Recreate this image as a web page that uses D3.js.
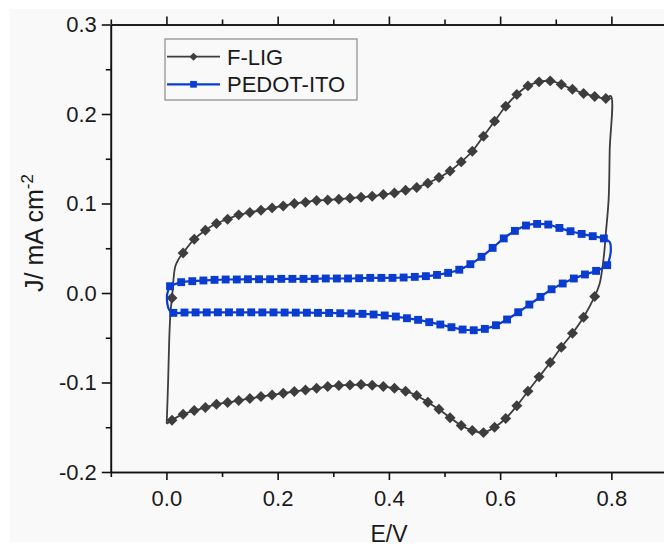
<!DOCTYPE html>
<html>
<head>
<meta charset="utf-8">
<script src="https://cdn.jsdelivr.net/npm/d3@7"></script>
<style>
  html, body { margin: 0; padding: 0; background: #ffffff; }
  svg { display: block; }
  text { font-family: "Liberation Sans", Arial, Helvetica, sans-serif; fill: #1a1a1a; }
</style>
</head>
<body>
<svg id="chart" width="664" height="547"></svg>
<script>
// ---------------- data ----------------
const seriesNames = ["F-LIG", "PEDOT-ITO"];

// F-LIG forward (upper) branch markers
const fligUpperE = [0.01,0.03,0.05,0.07,0.09,0.11,0.13,0.15,0.17,0.19,0.21,0.23,0.25,0.27,0.29,0.31,0.33,0.35,0.37,0.39,
                    0.41,0.43,0.45,0.47,0.49,0.51,0.53,0.55,0.57,0.59,0.61,0.63,0.65,0.67,0.69,0.71,0.73,0.75,0.77,0.79];
const fligUpperJ = [-0.0055,0.0448,0.0601,0.0702,0.0777,0.0825,0.0873,0.0900,0.0925,0.0951,0.0973,0.1000,0.1015,0.1034,0.1040,0.1048,0.1060,0.1070,0.1082,0.1100,
                    0.1118,0.1149,0.1179,0.1227,0.1290,0.1364,0.1465,0.1584,0.1752,0.1920,0.2087,0.2218,0.2314,0.2359,0.2370,0.2330,0.2277,0.2230,0.2196,0.2173];
// F-LIG reverse (lower) branch markers
const fligLowerE = [0.01,0.03,0.05,0.07,0.09,0.11,0.13,0.15,0.17,0.19,0.21,0.23,0.25,0.27,0.29,0.31,0.33,0.35,0.37,0.39,
                    0.41,0.43,0.45,0.47,0.49,0.51,0.53,0.55,0.57,0.59,0.61,0.63,0.65,0.67,0.69,0.71,0.73,0.75,0.77];
const fligLowerJ = [-0.1421,-0.1354,-0.1313,-0.1280,-0.1243,-0.1224,-0.1201,-0.1179,-0.1157,-0.1139,-0.1120,-0.1100,-0.1083,-0.1064,-0.1045,-0.1034,-0.1027,-0.1023,-0.1030,-0.1045,
                    -0.1064,-0.1097,-0.1145,-0.1220,-0.1300,-0.1393,-0.1480,-0.1536,-0.1560,-0.1500,-0.1402,-0.1260,-0.1097,-0.0937,-0.0777,-0.0606,-0.0449,-0.0270,-0.0039];
// F-LIG switching segments (line only, no markers)
const fligRightTurnE = [0.799,0.797,0.795,0.790,0.787,0.784,0.779];
const fligRightTurnJ = [0.220,0.160,0.104,0.0665,0.044,0.029,0.0106];
const fligLeftTurnE  = [0.0005,0.0030,0.0050,0.0075];
const fligLeftTurnJ  = [-0.1460,-0.1000,-0.0530,-0.0200];
const fligRiseE = [0.016,0.023];
const fligRiseJ = [0.030,0.039];

// PEDOT-ITO forward (upper) branch markers
const pedotUpperE = [0.0065,0.0265,0.0465,0.0665,0.0865,0.1065,0.1265,0.1465,0.1665,0.1865,0.2065,0.2265,0.2465,0.2665,0.2865,0.3065,0.3265,0.3465,0.3665,0.3865,
                     0.4065,0.4265,0.4465,0.4665,0.4865,0.5065,0.5265,0.5465,0.5665,0.5865,0.6065,0.6265,0.6465,0.6665,0.6865,0.7065,0.7265,0.7465,0.7665,0.7865];
const pedotUpperJ = [0.0076,0.0121,0.0132,0.0140,0.0147,0.0151,0.0151,0.0154,0.0154,0.0154,0.0158,0.0158,0.0158,0.0158,0.0162,0.0162,0.0162,0.0165,0.0169,0.0169,
                     0.0169,0.0173,0.0180,0.0188,0.0202,0.0225,0.0260,0.0322,0.0404,0.0504,0.0610,0.0694,0.0754,0.0772,0.0765,0.0727,0.0690,0.0660,0.0635,0.0610];
// PEDOT-ITO reverse (lower) branch markers
const pedotLowerE = [0.0125,0.0325,0.0525,0.0725,0.0925,0.1125,0.1325,0.1525,0.1725,0.1925,0.2125,0.2325,0.2525,0.2725,0.2925,0.3125,0.3325,0.3525,0.3725,0.3925,
                     0.4125,0.4325,0.4525,0.4725,0.4925,0.5125,0.5325,0.5525,0.5725,0.5925,0.6125,0.6325,0.6525,0.6725,0.6925,0.7125,0.7325,0.7525,0.7725,0.7925];
const pedotLowerJ = [-0.0222,-0.0218,-0.0217,-0.0217,-0.0216,-0.0216,-0.0216,-0.0216,-0.0217,-0.0217,-0.0218,-0.0219,-0.0220,-0.0222,-0.0223,-0.0226,-0.0229,-0.0233,-0.0240,-0.0251,
                     -0.0263,-0.0282,-0.0300,-0.0326,-0.0352,-0.0382,-0.0408,-0.0416,-0.0401,-0.0360,-0.0296,-0.0215,-0.0129,-0.0044,0.0042,0.0106,0.0162,0.0207,0.0247,0.0311];
const pedotRightTurnE = [0.7970,0.7990,0.7960];
const pedotRightTurnJ = [0.0570,0.0480,0.0370];
const pedotLeftTurnE  = [0.0052,0.0016,0.0016];
const pedotLeftTurnJ  = [-0.0192,-0.0117,-0.0006];

// axis ticks
const xMajorTicks = [0.0,0.2,0.4,0.6,0.8];
const xMinorTicks = [-0.1,0.1,0.3,0.5,0.7,0.9];
const yMajorTicks = [-0.2,-0.1,0.0,0.1,0.2,0.3];
const yMinorTicks = [-0.15,-0.05,0.05,0.15,0.25];
const xTitle = "E/V";
const yTitleMain = "J/ mA cm";
const yTitleSup = "-2";

// ---------------- drawing ----------------
const svg = d3.select("#chart");
const W = 664, H = 547;
const colF = "#3d3d3d", colP = "#0a3ccf";

svg.append("rect").attr("x", 10).attr("y", 9).attr("width", W - 10).attr("height", 533).attr("fill", "#f9f9f9");

const x = d3.scaleLinear().domain([-0.1, 0.9]).range([110.8, 667]);
const y = d3.scaleLinear().domain([-0.2, 0.3]).range([472, 24.5]);

const zip = (a, b) => a.map((v, i) => [v, b[i]]);

const fligPath = [].concat(
  zip(fligLeftTurnE, fligLeftTurnJ),
  zip(fligUpperE.slice(0,1), fligUpperJ.slice(0,1)),
  zip(fligRiseE, fligRiseJ),
  zip(fligUpperE.slice(1), fligUpperJ.slice(1)),
  zip(fligRightTurnE, fligRightTurnJ),
  zip(fligLowerE, fligLowerJ).reverse(),
  zip(fligLeftTurnE.slice(0,1), fligLeftTurnJ.slice(0,1))
);
const pedotPath = [].concat(
  zip(pedotUpperE, pedotUpperJ),
  zip(pedotRightTurnE, pedotRightTurnJ),
  zip(pedotLowerE, pedotLowerJ).reverse(),
  zip(pedotLeftTurnE, pedotLeftTurnJ),
  zip(pedotUpperE.slice(0,1), pedotUpperJ.slice(0,1))
);

const line = d3.line().x(d => x(d[0])).y(d => y(d[1])).curve(d3.curveCatmullRom.alpha(0.5));

const plot = svg.append("g");

// F-LIG
plot.append("path").datum(fligPath).attr("d", line)
  .attr("fill", "none").attr("stroke", colF).attr("stroke-width", 1.8);
const fligMarks = zip(fligUpperE, fligUpperJ).concat(zip(fligLowerE, fligLowerJ));
plot.append("g").selectAll("path").data(fligMarks).join("path")
  .attr("d", d3.symbol().type(d3.symbolSquare).size(60))
  .attr("transform", d => `translate(${x(d[0])},${y(d[1])}) rotate(45)`)
  .attr("fill", colF);

// PEDOT-ITO
plot.append("path").datum(pedotPath).attr("d", line)
  .attr("fill", "none").attr("stroke", colP).attr("stroke-width", 2.2);
const pedotMarks = zip(pedotUpperE, pedotUpperJ).concat(zip(pedotLowerE, pedotLowerJ));
plot.append("g").selectAll("path").data(pedotMarks).join("path")
  .attr("transform", d => `translate(${x(d[0])},${y(d[1])})`)
  .attr("d", d3.symbol().type(d3.symbolSquare).size(62))
  .attr("fill", colP);

// axes
const fmt = d => d.toFixed(1);
const axisStyle = g => {
  g.selectAll(".domain").attr("stroke", "#111").attr("stroke-width", 1.6);
  g.selectAll(".tick line").attr("stroke", "#111").attr("stroke-width", 1.6);
  g.selectAll("text").attr("font-size", 22).attr("fill", "#1a1a1a")
    .attr("font-family", '"Liberation Sans", Arial, sans-serif');
};

svg.append("g").attr("transform", "translate(0,472)")
  .call(d3.axisBottom(x).tickValues(xMajorTicks).tickFormat(fmt).tickSize(8).tickPadding(10).tickSizeOuter(0))
  .call(axisStyle);
svg.append("g").attr("transform", "translate(0,472)")
  .call(d3.axisBottom(x).tickValues(xMinorTicks).tickFormat("").tickSize(5).tickSizeOuter(0))
  .call(axisStyle);
svg.append("g").attr("transform", "translate(0,24.5)")
  .call(d3.axisTop(x).tickValues(xMajorTicks).tickFormat("").tickSize(8).tickSizeOuter(0))
  .call(axisStyle);
svg.append("g").attr("transform", "translate(0,24.5)")
  .call(d3.axisTop(x).tickValues(xMinorTicks).tickFormat("").tickSize(5).tickSizeOuter(0))
  .call(axisStyle);
svg.append("g").attr("transform", "translate(110.8,0)")
  .call(d3.axisLeft(y).tickValues(yMajorTicks).tickFormat(fmt).tickSize(9).tickPadding(5).tickSizeOuter(0))
  .call(axisStyle);
svg.append("g").attr("transform", "translate(110.8,0)")
  .call(d3.axisLeft(y).tickValues(yMinorTicks).tickFormat("").tickSize(5).tickSizeOuter(0))
  .call(axisStyle);
svg.append("g").attr("transform", "translate(667,0)")
  .call(d3.axisRight(y).tickValues(yMajorTicks).tickFormat("").tickSize(8).tickSizeOuter(0))
  .call(axisStyle);

// axis titles
svg.append("text").attr("x", 389).attr("y", 542).attr("text-anchor", "middle")
  .attr("font-size", 23).text(xTitle);
const yt = svg.append("text").attr("transform", "translate(43,233) rotate(-90)")
  .attr("text-anchor", "middle").attr("font-size", 25);
yt.append("tspan").text(yTitleMain);
yt.append("tspan").attr("dy", -10).attr("font-size", 17).text(yTitleSup);

// legend
const lg = svg.append("g");
lg.append("rect").attr("x", 165).attr("y", 39).attr("width", 192).attr("height", 61)
  .attr("fill", "none").attr("stroke", "#8a8a8a").attr("stroke-width", 1.2);
const rows = [
  {name: seriesNames[0], color: colF, sym: d3.symbol().type(d3.symbolSquare).size(32), rot: 45, y: 56.7, w: 1.8},
  {name: seriesNames[1], color: colP, sym: d3.symbol().type(d3.symbolSquare).size(45), rot: 0, y: 84.3, w: 2.2}
];
rows.forEach(r => {
  lg.append("line").attr("x1", 167).attr("x2", 220).attr("y1", r.y).attr("y2", r.y)
    .attr("stroke", r.color).attr("stroke-width", r.w);
  lg.append("path").attr("d", r.sym).attr("fill", r.color)
    .attr("transform", `translate(193.5,${r.y}) rotate(${r.rot})`);
  lg.append("text").attr("x", 227).attr("y", r.y + 8).attr("font-size", 22).text(r.name);
});
</script>
</body>
</html>
